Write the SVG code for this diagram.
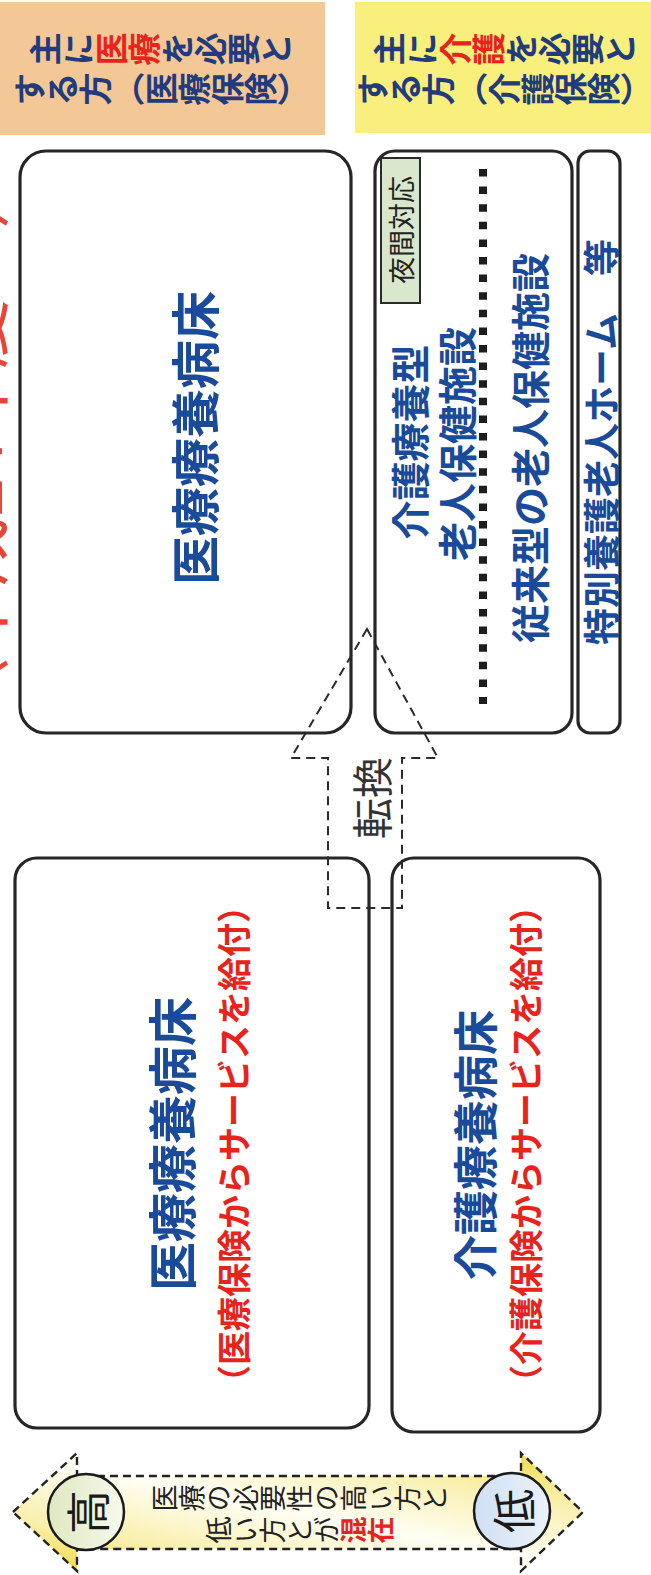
<svg xmlns="http://www.w3.org/2000/svg" width="651" height="1575" viewBox="0 0 651 1575">
<defs>
<style>
text{font-family:"Noto Sans CJK JP","Noto Sans CJK SC","Noto Sans",sans-serif}
.box{fill:#fff;stroke:#262626;stroke-width:3.2}
.blue{fill:#1a4a9a;font-weight:bold}
.red{fill:#e8231c;font-weight:bold}
.navy{fill:#213b7c;font-weight:bold}
.v{writing-mode:vertical-rl}
.c{text-anchor:middle;dominant-baseline:central}
.dash{fill:none;stroke:#2a2a2a;stroke-width:2;stroke-dasharray:9 6}
.ring{stroke:#1a1a1a;stroke-width:2.5}
</style>
<linearGradient id="axisFill" x1="0" y1="1" x2="1" y2="0">
<stop offset="0" stop-color="#efd52a"/>
<stop offset="0.22" stop-color="#f9efaa"/>
<stop offset="0.5" stop-color="#fffef4"/>
<stop offset="0.78" stop-color="#f9efaa"/>
<stop offset="1" stop-color="#efd52a"/>
</linearGradient>
<linearGradient id="hiFill" x1="0" y1="0" x2="1" y2="0">
<stop offset="0" stop-color="#dfe8c0"/>
<stop offset="1" stop-color="#f7f9ec"/>
</linearGradient>
<linearGradient id="loFill" x1="0" y1="0" x2="1" y2="0">
<stop offset="0" stop-color="#cfe0f2"/>
<stop offset="1" stop-color="#ebf2fa"/>
</linearGradient>
</defs>
<rect width="651" height="1575" fill="#fff"/>

<g id="title">
<text class="c" font-size="70" style="fill:#e8453a" transform="translate(-29,443) rotate(-90)">〈平成24年度〜〉</text>
</g>

<g id="header-medical">
<rect x="0" y="2" width="325" height="133" fill="#f3c896"/>
<text class="v c navy" font-size="33" transform="translate(161,49) rotate(-90)">主に<tspan class="red">医療</tspan>を必要と</text>
<text class="v c navy" font-size="33" transform="translate(161,89) rotate(-90)">する方（医療保険）</text>
</g>

<g id="header-care">
<rect x="355" y="2" width="296" height="131" fill="#f8ef7d"/>
<text class="v c navy" font-size="33" transform="translate(505,49) rotate(-90)">主に<tspan class="red">介護</tspan>を必要と</text>
<text class="v c navy" font-size="33" transform="translate(504,89) rotate(-90)">する方（介護保険）</text>
</g>

<g id="node-ryoyo-new">
<rect class="box" x="20" y="151" width="331" height="582" rx="26"/>
<text class="c blue" font-size="49" transform="translate(192,438) rotate(-90)">医療療養病床</text>
</g>

<g id="node-roken">
<rect class="box" x="375" y="151" width="197" height="582" rx="20"/>
<rect x="381" y="158" width="39" height="145" fill="#d9e7cd" stroke="#2a2a2a" stroke-width="2"/>
<text class="c" font-size="27" fill="#222" transform="translate(400.5,230) rotate(-90)">夜間対応</text>
<text class="c blue" font-size="39" transform="translate(408,442) rotate(-90)">介護療養型</text>
<text class="c blue" font-size="39" transform="translate(455,444) rotate(-90)">老人保健施設</text>
<line x1="483" y1="169" x2="483" y2="704" stroke="#1e1e1e" stroke-width="8" stroke-dasharray="7.5 10.1"/>
<text class="c blue" font-size="39" transform="translate(528,448) rotate(-90)">従来型の老人保健施設</text>
</g>

<g id="node-tokuyo">
<rect class="box" x="578" y="151" width="42" height="582" rx="12"/>
<text class="c blue" font-size="37" transform="translate(600,442) rotate(-90)">特別養護老人ホーム　等</text>
</g>

<g id="node-ryoyo-old">
<rect class="box" x="15" y="858" width="354" height="570" rx="22"/>
<text class="c blue" font-size="49" transform="translate(169,1144) rotate(-90)">医療療養病床</text>
<text class="c red" font-size="34" transform="translate(232,1144) rotate(-90)">（医療保険からサービスを給付）</text>
</g>

<g id="node-kaigo-old">
<rect class="box" x="392" y="858" width="208" height="574" rx="22"/>
<text class="c blue" font-size="45" transform="translate(473,1145) rotate(-90)">介護療養病床</text>
<text class="c red" font-size="34" transform="translate(524,1144) rotate(-90)">（介護保険からサービスを給付）</text>
</g>

<g id="connectors">
<polygon class="dash" points="367,629 438,758 402,758 402,908 328,908 328,758 291,758"/>
<text class="c" font-size="41" fill="#333" transform="translate(370,798) rotate(-90)">転換</text>
</g>

<g id="axis">
<polygon points="13,1512 77,1453 77,1476 521,1476 521,1453 583,1512 521,1571 521,1549 77,1549 77,1571" fill="url(#axisFill)" stroke="#222" stroke-width="2.4" stroke-dasharray="8 5"/>
<circle class="ring" cx="86" cy="1512" r="38" fill="url(#hiFill)"/>
<text class="c" font-size="44" fill="#1a1a1a" transform="translate(86,1512) rotate(-90)">高</text>
<circle class="ring" cx="512" cy="1511" r="38" fill="url(#loFill)"/>
<text class="c" font-size="44" fill="#1a1a1a" transform="translate(512,1511) rotate(-90)">低</text>
<text class="v c" font-size="27" fill="#222" transform="translate(300,1498) rotate(-90)">医療の必要性の高い方と</text>
<text class="v c" font-size="27" fill="#222" transform="translate(300,1530) rotate(-90)">低い方とが<tspan class="red">混在</tspan></text>
</g>
</svg>
